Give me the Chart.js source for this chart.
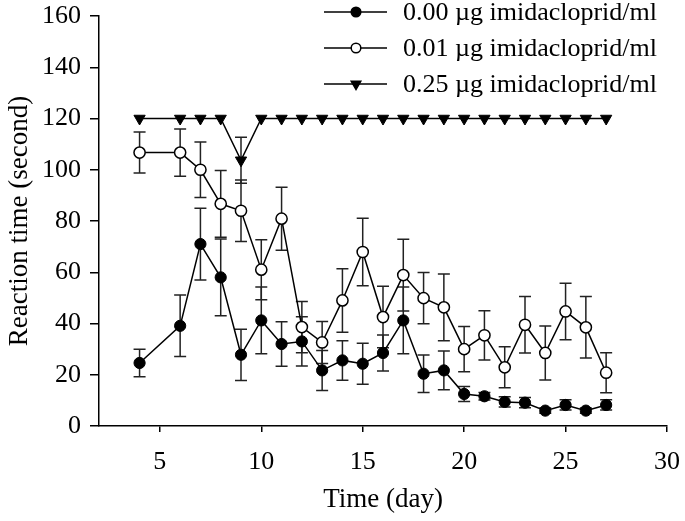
<!DOCTYPE html>
<html><head><meta charset="utf-8">
<script src="https://cdn.jsdelivr.net/npm/chart.js@4.4.1/dist/chart.umd.min.js"></script>
<style>html,body{margin:0;padding:0;background:#fff}#wrap{width:685px;height:521px;position:relative}</style>
</head><body><div id="wrap"><canvas id="c"></canvas></div>
<script>
const days = [4,6,7,8,9,10,11,12,13,14,15,16,17,18,19,20,21,22,23,24,25,26,27];
const seriesLabels = ['0.00 \u00b5g imidacloprid/ml','0.01 \u00b5g imidacloprid/ml','0.25 \u00b5g imidacloprid/ml'];
const dose000 = [24.6,39.1,71.0,58.0,27.8,41.2,32.0,33.0,21.7,25.6,24.3,28.5,41.2,20.4,21.7,12.5,11.6,9.4,9.1,6.0,8.2,6.0,8.2];
const dose000Err = [5.4,12,14,15,10,13,8.7,9.6,7.8,7.7,8,7,13,7.3,7.6,2.9,1.5,2,2,1,2,1,2];
const dose001 = [106.7,106.7,100.0,86.7,84.0,61.0,80.9,38.6,32.6,49.0,67.9,42.5,58.9,49.9,46.3,30.0,35.4,22.9,39.5,28.5,44.7,38.5,20.8];
const dose001Err = [8,9.2,10.8,13,12,11.7,12.3,10,8.2,12.4,13.2,12,14,10,13,8.8,9.6,8,11,10.5,11,12,7.8];
const dose025 = [120,120,120,120,103.7,120,120,120,120,120,120,120,120,120,120,120,120,120,120,120,120,120,120];
const dose025Err = [0,0,0,0,9,0,0,0,0,0,0,0,0,0,0,0,0,0,0,0,0,0,0];
const xTicks = [5,10,15,20,25,30];
const yTicks = [0,20,40,60,80,100,120,140,160];

const FONT = "'Liberation Serif','Times New Roman',serif";

function pts(vals){ return days.map((d,i)=>({x:d,y:vals[i]})); }

const errorBars = {
  id:'errorBars',
  beforeDatasetsDraw(chart){
    const ctx = chart.ctx, xs = chart.scales.x, ys = chart.scales.y;
    ctx.save();
    ctx.strokeStyle = '#222'; ctx.lineWidth = 1.5;
    chart.data.datasets.forEach(ds=>{
      ds.data.forEach((p,i)=>{
        const e = ds.err[i]; if(!e) return;
        const x = xs.getPixelForValue(p.x);
        const yt = ys.getPixelForValue(p.y+e), yb = ys.getPixelForValue(p.y-e);
        ctx.beginPath();
        ctx.moveTo(x,yt); ctx.lineTo(x,yb);
        ctx.moveTo(x-6,yt); ctx.lineTo(x+6,yt);
        ctx.moveTo(x-6,yb); ctx.lineTo(x+6,yb);
        ctx.stroke();
      });
    });
    ctx.restore();
  }
};

const legendPlugin = {
  id:'customLegend',
  afterDraw(chart){
    const ctx = chart.ctx;
    const rows = [12,48,84];
    ctx.save();
    chart.data.datasets.forEach((ds,i)=>{
      const y = rows[i];
      ctx.strokeStyle = '#000'; ctx.lineWidth = 1.5;
      ctx.beginPath(); ctx.moveTo(324,y); ctx.lineTo(387,y); ctx.stroke();
      ctx.fillStyle = ds.pointBackgroundColor; ctx.lineWidth = 1.5;
      ctx.beginPath();
      if(ds.pointStyle === 'triangle'){
        const r = 5.5;
        ctx.moveTo(356 - r*0.866, y - r*0.5);
        ctx.lineTo(356 + r*0.866, y - r*0.5);
        ctx.lineTo(356, y + r);
        ctx.closePath();
      } else {
        ctx.arc(356,y,4.8,0,Math.PI*2);
      }
      ctx.fill(); ctx.stroke();
      ctx.fillStyle = '#000';
      ctx.font = '26px ' + FONT;
      ctx.textAlign = 'left'; ctx.textBaseline = 'middle';
      ctx.fillText(ds.label, 403, y+1);
    });
    ctx.restore();
  }
};

new Chart(document.getElementById('c'), {
  type:'line',
  data:{
    datasets:[
      {label:seriesLabels[0], data:pts(dose000), err:dose000Err, borderColor:'#000', borderWidth:1.5,
       pointStyle:'circle', pointRadius:5.6, pointBackgroundColor:'#000', pointBorderColor:'#000', pointBorderWidth:1, tension:0},
      {label:seriesLabels[1], data:pts(dose001), err:dose001Err, borderColor:'#000', borderWidth:1.5,
       pointStyle:'circle', pointRadius:5.6, pointBackgroundColor:'#fff', pointBorderColor:'#000', pointBorderWidth:1.5, tension:0},
      {label:seriesLabels[2], data:pts(dose025), err:dose025Err, borderColor:'#000', borderWidth:1.5,
       pointStyle:'triangle', rotation:180, pointRadius:6.5, pointBackgroundColor:'#000', pointBorderColor:'#000', pointBorderWidth:1, tension:0}
    ]
  },
  plugins:[errorBars, legendPlugin],
  options:{
    responsive:true, maintainAspectRatio:false, animation:false, devicePixelRatio:1,
    layout:{padding:{top:16,right:18,bottom:0,left:0}},
    plugins:{legend:{display:false}, tooltip:{enabled:false}},
    scales:{
      x:{type:'linear', min:2, max:30,
        afterBuildTicks:s=>{ s.ticks = xTicks.map(v=>({value:v})); },
        afterFit:s=>{ s.height = 95; s.paddingLeft = 0; s.paddingRight = 0; },
        ticks:{font:{family:FONT,size:26}, color:'#000', padding:15, maxRotation:0, autoSkip:false},
        grid:{display:true, drawOnChartArea:false, drawTicks:true, tickLength:6, color:'#000', lineWidth:1.5},
        border:{display:true, color:'#000', width:1.5},
        title:{display:true, text:'Time (day)', font:{family:FONT,size:27}, color:'#000', padding:{top:4,bottom:5}}
      },
      y:{type:'linear', min:0, max:160,
        afterBuildTicks:s=>{ s.ticks = yTicks.map(v=>({value:v})); },
        afterFit:s=>{ s.width = 99; s.paddingTop = 0; s.paddingBottom = 0; },
        ticks:{font:{family:FONT,size:26}, color:'#000', padding:9},
        grid:{display:true, drawOnChartArea:false, drawTicks:true, tickLength:9, color:'#000', lineWidth:1.5},
        border:{display:true, color:'#000', width:1.5},
        title:{display:true, text:'Reaction time (second)', font:{family:FONT,size:27}, color:'#000', padding:{top:4,bottom:4}}
      }
    }
  }
});
</script></body></html>
